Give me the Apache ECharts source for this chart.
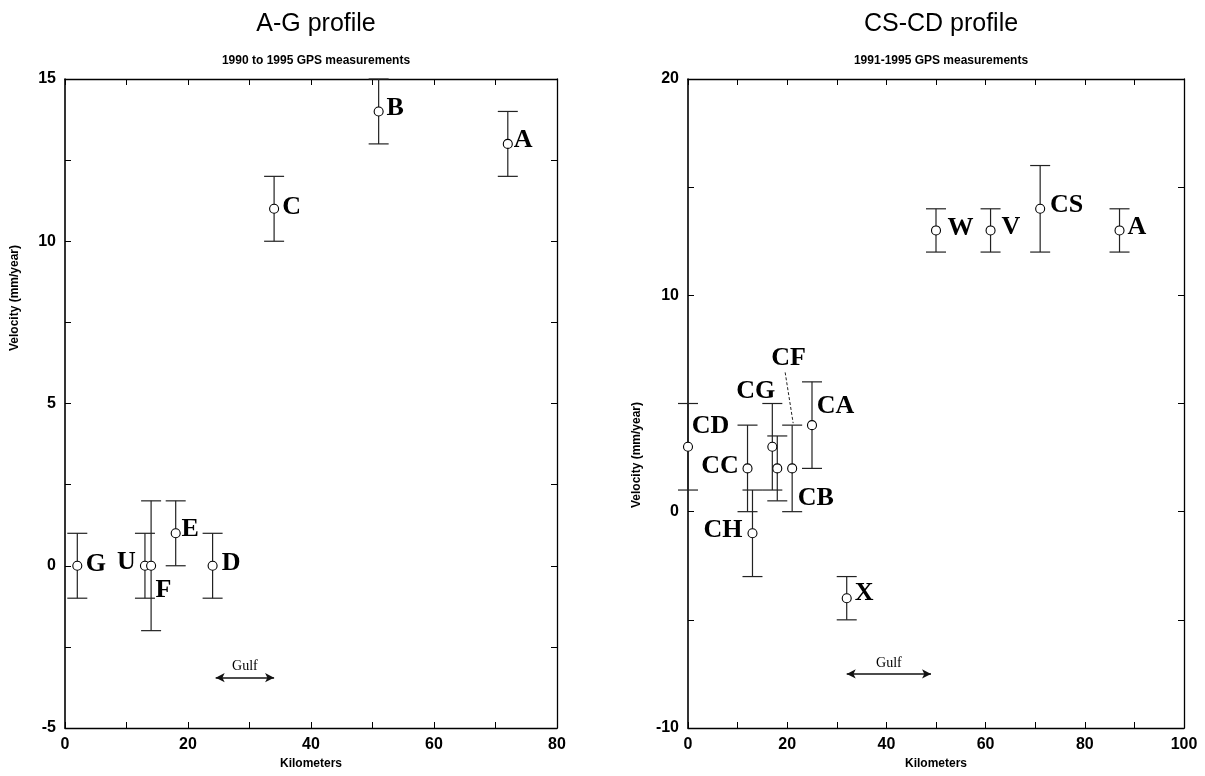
<!DOCTYPE html>
<html>
<head>
<meta charset="utf-8">
<script src="https://cdn.jsdelivr.net/npm/echarts@6/dist/echarts.min.js"></script>
<style>
  html, body { margin: 0; padding: 0; background: #fff; }
  #chart { width: 1205px; height: 776px; }
</style>
</head>
<body>
<div id="chart"></div>
<script>
// A-G profile (1990 to 1995 GPS measurements)
const agNames = ["G", "U", "F", "E", "D", "C", "B", "A"];
const agKm = [2, 13, 14, 18, 24, 34, 51, 72];
const agVel = [0, 0, 0, 1, 0, 11, 14, 13];
const agErr = [1, 1, 2, 1, 1, 1, 1, 1];
const agGulf = [24.5, 34];
const agYTicks = [-5, 15, 5];

// CS-CD profile (1991-1995 GPS measurements)
const cdNames = ["CD", "CC", "CH", "CG", "CB", "CF", "CA", "X", "W", "V", "CS", "A"];
const cdKm = [0, 12, 13, 17, 18, 21, 25, 32, 50, 61, 71, 87];
const cdVel = [3, 2, -1, 3, 2, 2, 4, -4, 13, 13, 14, 13];
const cdErr = [2, 2, 2, 2, 1.5, 2, 2, 1, 1, 1, 2, 1];
const cdGulf = [32, 49];
const cdYTicks = [-10, 20, 10];

// label placement (pixel offset of label centre from the marker)
const agLabelOffset = {
  G: [19, -1], U: [-18, -3], F: [13, 25], E: [15, -3],
  D: [19, -2], C: [18, -1], B: [17, -3], A: [16, -3],
};
const cdLabelOffset = {
  CD: [23, -20], CC: [-27, -2], CH: [-29, -2], CG: [-16, -55],
  CB: [39, 30], CF: [-3, -110], CA: [24, -18], X: [18, -4],
  W: [25, -2], V: [21, -3], CS: [27, -3], A: [18, -3],
};
const leaderLabels = ["CF"];

const SANS = "Liberation Sans, Arial, sans-serif";
const SERIF = "Liberation Serif, Times New Roman, serif";
const SYMBOL = 9;

const chart = echarts.init(document.getElementById("chart"));

const errorSeries = (idx, km, vel, err, names, offsets) => ({
  type: "custom",
  xAxisIndex: idx * 2,
  yAxisIndex: idx * 2,
  silent: true,
  z: 2,
  encode: { x: 0, y: 1 },
  data: km.map((k, i) => [k, vel[i], err[i], i]),
  renderItem: (params, api) => {
    const x = api.value(0);
    const y = api.value(1);
    const e = api.value(2);
    const top = api.coord([x, y + e]);
    const bot = api.coord([x, y - e]);
    const hw = 10;
    const st = { stroke: "#222", lineWidth: 1.2 };
    const children = [
      { type: "line", shape: { x1: top[0], y1: top[1], x2: bot[0], y2: bot[1] }, style: st },
      { type: "line", shape: { x1: top[0] - hw, y1: top[1], x2: top[0] + hw, y2: top[1] }, style: st },
      { type: "line", shape: { x1: bot[0] - hw, y1: bot[1], x2: bot[0] + hw, y2: bot[1] }, style: st },
    ];
    const name = names[api.value(3)];
    if (leaderLabels.includes(name)) {
      const p = api.coord([x, y]);
      const off = offsets[name];
      children.push({
        type: "line",
        shape: { x1: p[0] + off[0] - 4, y1: p[1] + off[1] + 14, x2: top[0] + 1, y2: top[1] - 2 },
        style: { stroke: "#222", lineWidth: 1, lineDash: [3, 2] },
      });
    }
    return { type: "group", children };
  },
});

const pointSeries = (idx, km, vel, names, offsets, gulf, gulfY) => ({
  type: "scatter",
  xAxisIndex: idx * 2,
  yAxisIndex: idx * 2,
  z: 3,
  symbol: "circle",
  symbolSize: SYMBOL,
  itemStyle: { color: "#fff", borderColor: "#000", borderWidth: 1.1, opacity: 1 },
  label: {
    show: true,
    position: [SYMBOL / 2, SYMBOL / 2],
    align: "center",
    verticalAlign: "middle",
    formatter: "{b}",
    fontFamily: SERIF,
    fontWeight: "bold",
    fontSize: 26,
    color: "#000",
    opacity: 1,
  },
  data: km.map((k, i) => ({
    name: names[i],
    value: [k, vel[i]],
    label: { offset: offsets[names[i]] },
  })),
  markLine: {
    silent: true,
    animation: false,
    symbol: ["arrow", "arrow"],
    symbolSize: [7, 9],
    lineStyle: { color: "#111", width: 1.5, type: "solid" },
    label: {
      show: true,
      position: "insideMiddleTop",
      formatter: "Gulf",
      fontFamily: SERIF,
      fontSize: 14,
      color: "#000",
      distance: 4,
    },
    data: [[{ coord: [gulf[0], gulfY] }, { coord: [gulf[1], gulfY] }]],
  },
});

const axisStyle = { onZero: false, lineStyle: { color: "#000", width: 1.3 } };
const tickStyle = { show: true, inside: true, length: 6, lineStyle: { color: "#000", width: 1 } };
const minorStyle = { show: true, splitNumber: 2, length: 6, lineStyle: { color: "#000", width: 1 } };
const labelStyle = { fontFamily: SANS, fontWeight: "bold", fontSize: 16, color: "#000", margin: 9 };

const xAxes = (grid, max) => [
  {
    gridIndex: grid, type: "value", min: 0, max, interval: 20, position: "bottom",
    axisLine: axisStyle, axisTick: tickStyle, minorTick: minorStyle, splitLine: { show: false },
    axisLabel: labelStyle,
    name: "Kilometers", nameLocation: "middle", nameGap: 27,
    nameTextStyle: { fontFamily: SANS, fontWeight: "bold", fontSize: 12, color: "#000" },
  },
  {
    gridIndex: grid, type: "value", min: 0, max, interval: 20, position: "top",
    axisLine: axisStyle, axisTick: tickStyle, minorTick: minorStyle, splitLine: { show: false },
    axisLabel: { show: false },
  },
];

const yAxes = (grid, ticks) => [
  {
    gridIndex: grid, type: "value", min: ticks[0], max: ticks[1], interval: ticks[2], position: "left",
    axisLine: { onZero: false, lineStyle: { color: "#000", width: 1.6 } }, axisTick: tickStyle, minorTick: minorStyle,
    splitLine: { show: false }, axisLabel: labelStyle,
  },
  {
    gridIndex: grid, type: "value", min: ticks[0], max: ticks[1], interval: ticks[2], position: "right",
    axisLine: axisStyle, axisTick: tickStyle, minorTick: minorStyle,
    splitLine: { show: false }, axisLabel: { show: false },
  },
];

const titleFont = { fontFamily: SANS, fontSize: 25, fontWeight: "normal", color: "#000" };
const subFont = { fontFamily: SANS, fontSize: 12, fontWeight: "bold", color: "#000" };
const axisNameStyle = { text: "Velocity (mm/year)", font: "bold 12px Liberation Sans, Arial, sans-serif", fill: "#000", align: "center", verticalAlign: "middle" };

const option = {
  backgroundColor: "#fff",
  animation: false,
  title: [
    { text: "A-G profile", left: 311, top: 7, textAlign: "center", textStyle: titleFont },
    { text: "1990 to 1995 GPS measurements", left: 311, top: 50, textAlign: "center", textStyle: subFont },
    { text: "CS-CD profile", left: 936, top: 7, textAlign: "center", textStyle: titleFont },
    { text: "1991-1995 GPS measurements", left: 936, top: 50, textAlign: "center", textStyle: subFont },
  ],
  grid: [
    { left: 65, right: 648, top: 79, bottom: 48 },
    { left: 688, right: 21, top: 79, bottom: 48 },
  ],
  xAxis: [...xAxes(0, 80), ...xAxes(1, 100)],
  yAxis: [...yAxes(0, agYTicks), ...yAxes(1, cdYTicks)],
  graphic: [
    { type: "text", x: 15, y: 298, rotation: Math.PI / 2, style: axisNameStyle },
    { type: "text", x: 637, y: 455, rotation: Math.PI / 2, style: axisNameStyle },
  ],
  series: [
    errorSeries(0, agKm, agVel, agErr, agNames, agLabelOffset),
    pointSeries(0, agKm, agVel, agNames, agLabelOffset, agGulf, -3.45),
    errorSeries(1, cdKm, cdVel, cdErr, cdNames, cdLabelOffset),
    pointSeries(1, cdKm, cdVel, cdNames, cdLabelOffset, cdGulf, -7.5),
  ],
};

chart.setOption(option);
</script>
</body>
</html>
